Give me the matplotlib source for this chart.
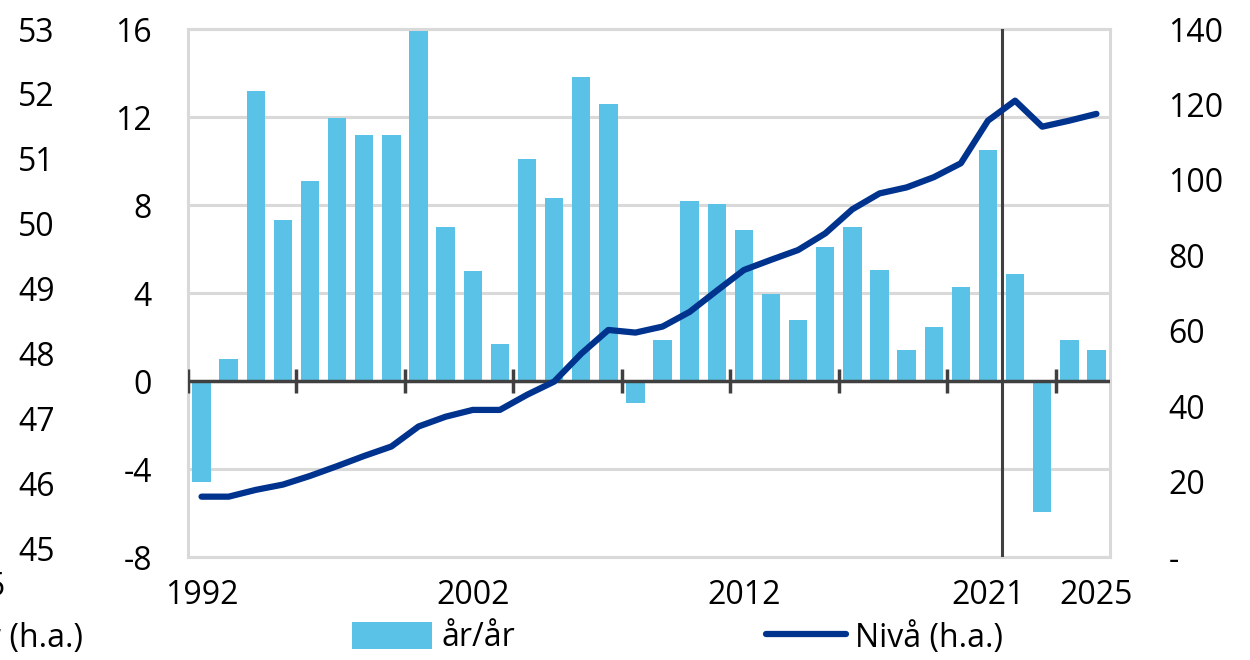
import matplotlib
matplotlib.use("Agg")
import matplotlib.pyplot as plt
import numpy as np
from matplotlib.patches import Patch
from matplotlib.lines import Line2D
from matplotlib.ticker import FuncFormatter

plt.rcParams['font.family'] = ['Open Sans', 'DejaVu Sans']
plt.rcParams['axes.unicode_minus'] = False

years = list(range(1992, 2026))
yoy = [-4.6, 1.0, 13.2, 7.3, 9.1, 11.95, 11.2, 11.2, 16.0, 7.0,
       5.0, 1.7, 10.1, 8.3, 13.8, 12.6, -1.0, 1.85, 8.2, 8.05,
       6.85, 3.97, 2.76, 6.09, 7.0, 5.03, 1.39, 2.45, 4.27, 10.48,
       4.88, -5.95, 1.85, 1.39]
level = [16.0, 16.0, 17.8, 19.2, 21.5, 24.1, 26.8, 29.3, 34.6, 37.2,
         39.0, 39.0, 43.0, 46.5, 53.9, 60.2, 59.5, 61.1, 65.0, 70.6,
         76.1, 78.8, 81.4, 85.8, 92.2, 96.4, 98.0, 100.7, 104.4, 115.7,
         121.0, 114.1, 115.7, 117.5]
left_ticks = [-8, -4, 0, 4, 8, 12, 16]
right_ticks = [0, 20, 40, 60, 80, 100, 120, 140]
outer_ticks = [45, 46, 47, 48, 49, 50, 51, 52, 53]
label_years = [1992, 2002, 2012, 2021, 2025]
split_year = 2021

BAR = '#5BC2E7'
LINE = '#00338D'
GRID = '#D9D9D9'
DARK = '#404040'
FS = 23

W, H = 1250, 660
fig = plt.figure(figsize=(W / 100, H / 100), dpi=100)
L, R, T, B = 188, 1110, 29, 557
pos = [L / W, 1 - B / H, (R - L) / W, (B - T) / H]

# outer (far-left) axis with only labels
ax3 = fig.add_axes(pos)
ax3.set_ylim(44.862, 52.939)
ax3.set_yticks(outer_ticks)
ax3.tick_params(axis='y', length=0, pad=96, labelsize=FS)
ax3.set_xticks([])
for s in ax3.spines.values():
    s.set_visible(False)
ax3.patch.set_visible(False)

ax = fig.add_axes(pos)
ax.patch.set_visible(False)
x = np.arange(len(years))
ax.bar(x, yoy, width=0.68, color=BAR, zorder=2)
ax.set_xlim(-0.5, len(years) - 0.5)
ax.set_ylim(-8, 16)
ax.set_yticks(left_ticks)
ax.tick_params(axis='y', length=0, pad=26, labelsize=FS)
ax.grid(axis='y', color=GRID, linewidth=2.2, zorder=0)
for s in ax.spines.values():
    s.set_color(GRID)
    s.set_linewidth(2.2)
ax.axhline(0, color=DARK, linewidth=2.5, zorder=3)
bounds = np.arange(-0.5, len(years), 4)
ax.vlines(bounds, -0.55, 0.55, color=DARK, linewidth=2.5, zorder=3)
ax.axvline(years.index(split_year) + 0.5, color=DARK, linewidth=2.2, zorder=3)
ax.set_xticks([years.index(y) for y in label_years])
ax.set_xticklabels([str(y) for y in label_years])
ax.tick_params(axis='x', length=0, pad=16, labelsize=FS)

ax2 = ax.twinx()
ax2.plot(x, level, color=LINE, linewidth=4.5, solid_capstyle='round', zorder=4)
ax2.set_ylim(0, 140)
ax2.set_yticks(right_ticks)
ax2.yaxis.set_major_formatter(FuncFormatter(lambda v, p: '-' if v == 0 else f'{int(v)}'))
ax2.tick_params(axis='y', length=0, pad=42, labelsize=FS)
for s in ax2.spines.values():
    s.set_visible(False)
ax2.set_zorder(ax.get_zorder() + 1)

handles = [Patch(facecolor=BAR, edgecolor='none'),
           Line2D([0], [0], color=LINE, linewidth=4.5, solid_capstyle='round')]
fig.legend(handles, ['år/år', 'Nivå (h.a.)'], loc='center left',
           bbox_to_anchor=(323 / W, 1 - 638 / H), ncol=2, frameon=False,
           fontsize=FS, handlelength=2.5, handleheight=0.9, handletextpad=0.3,
           columnspacing=7.85)

fig.text(-12 / W, 1 - 638 / H, 'r (h.a.)', fontsize=FS, va='center', ha='left')
fig.text(5 / W, 1 - 588 / H, '5', fontsize=FS, va='center', ha='right')

fig.savefig('out.png', dpi=100)
